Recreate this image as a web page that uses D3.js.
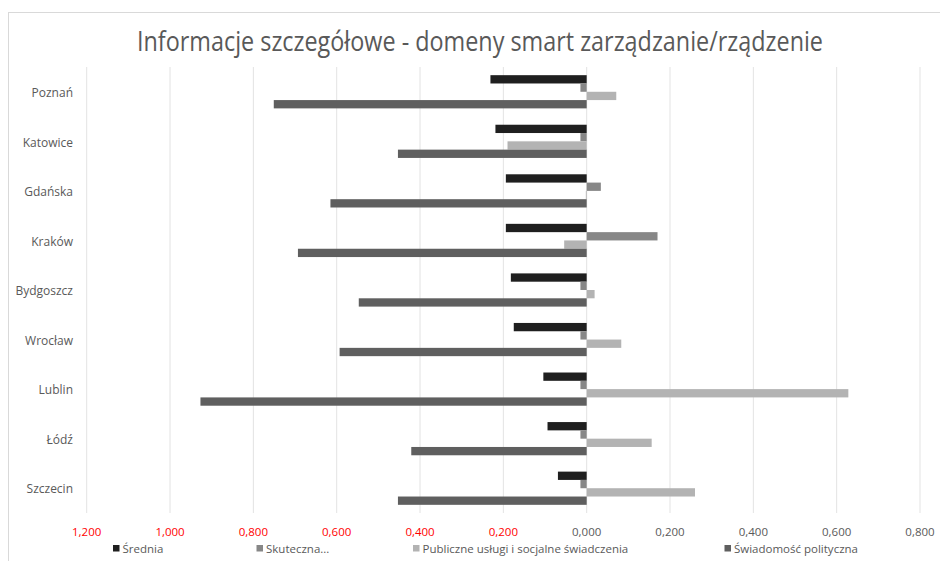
<!DOCTYPE html>
<html>
<head>
<meta charset="utf-8">
<script src="https://cdn.jsdelivr.net/npm/d3@7"></script>
<style>
	body { margin: 0; background: #fff; }
	svg { display: block; font-family: 'Open Sans', sans-serif; }
</style>
</head>
<body>
<svg id="chart" width="940" height="561"></svg>
<script>
const cities = ['Poznań', 'Katowice', 'Gdańska', 'Kraków', 'Bydgoszcz', 'Wrocław', 'Lublin', 'Łódź', 'Szczecin'];
const seriesNames = ['Średnia', 'Skuteczna...', 'Publiczne usługi i socjalne świadczenia', 'Świadomość polityczna'];
const srednia = [-0.231, -0.219, -0.194, -0.194, -0.182, -0.175, -0.104, -0.094, -0.069];
const skuteczna = [-0.015, -0.015, 0.034, 0.170, -0.015, -0.015, -0.015, -0.015, -0.015];
const publiczne = [0.071, -0.190, -0.002, -0.054, 0.019, 0.083, 0.628, 0.156, 0.260];
const swiadomosc = [-0.751, -0.453, -0.615, -0.693, -0.547, -0.593, -0.927, -0.421, -0.453];
const ticks = [-1.2, -1, -0.8, -0.6, -0.4, -0.2, 0, 0.2, 0.4, 0.6, 0.8];
const colors = ['#1f1f1f', '#878787', '#b3b3b3', '#5f5f5f'];

const series = [srednia, skuteczna, publiczne, swiadomosc];
const svg = d3.select('#chart');
const textColor = '#595959';

// chart frame (cut by the window on the right and bottom)
svg.append('rect')
	.attr('x', 8.5)
	.attr('y', 12.5)
	.attr('width', 1000)
	.attr('height', 600)
	.style('fill', '#fff')
	.style('stroke', '#d9d9d9');

const plot = { left: 86.7, right: 920, top: 67, bottom: 513 };

const x = d3.scaleLinear([-1.2, 0.8], [plot.left, plot.right]);
const y = d3.scaleBand(cities, [plot.top, plot.bottom])
	.paddingInner(0.33)
	.paddingOuter(0.165);
const ySub = d3.scaleBand(d3.range(series.length), [0, y.bandwidth()]);

const fmt = d3.formatLocale({ decimal: ',', thousands: ' ', grouping: [3], currency: ['', ''] }).format('.3f');

// gridlines
svg.append('g')
	.attr('class', 'grid')
	.selectAll('line')
	.data(ticks)
	.join('line')
	.attr('x1', d => x(d))
	.attr('x2', d => x(d))
	.attr('y1', plot.top)
	.attr('y2', plot.bottom)
	.style('stroke', '#e3e3e3')
	.style('stroke-width', 1);

// bars
const groups = svg.append('g')
	.attr('class', 'bars')
	.selectAll('g')
	.data(cities)
	.join('g')
	.attr('transform', d => `translate(0,${y(d)})`);

groups.selectAll('rect')
	.data((d, i) => series.map((s, j) => ({ j, v: s[i] })))
	.join('rect')
	.attr('x', d => x(Math.min(0, d.v)))
	.attr('width', d => Math.abs(x(d.v) - x(0)))
	.attr('y', d => ySub(d.j))
	.attr('height', ySub.bandwidth())
	.style('fill', d => colors[d.j]);

// category labels
svg.append('g')
	.attr('class', 'y-labels')
	.selectAll('text')
	.data(cities)
	.join('text')
	.attr('x', 73)
	.attr('y', d => y(d) + y.bandwidth() / 2 + 1)
	.attr('dy', '0.35em')
	.attr('text-anchor', 'end')
	.style('font-size', '12px')
	.style('fill', textColor)
	.text(d => d);

// tick labels
svg.append('g')
	.attr('class', 'x-labels')
	.selectAll('text')
	.data(ticks)
	.join('text')
	.attr('x', d => x(d))
	.attr('y', 532)
	.attr('dy', '0.35em')
	.attr('text-anchor', 'middle')
	.style('font-size', '11.5px')
	.style('fill', d => d < 0 ? '#ff0000' : textColor)
	.text(d => fmt(Math.abs(d)));

// title
svg.append('text')
	.attr('x', 480)
	.attr('y', 51)
	.attr('text-anchor', 'middle')
	.attr('textLength', 686)
	.attr('lengthAdjust', 'spacingAndGlyphs')
	.style('font-size', '27px')
	.style('fill', textColor)
	.text('Informacje szczegółowe - domeny smart zarządzanie/rządzenie');

// legend
const legendX = [113, 256.5, 413, 724.5];
const legend = svg.append('g')
	.attr('class', 'legend')
	.selectAll('g')
	.data(seriesNames)
	.join('g')
	.attr('transform', (d, i) => `translate(${legendX[i]},548.5)`);

legend.append('rect')
	.attr('x', 0)
	.attr('y', -3.5)
	.attr('width', 6.5)
	.attr('height', 6.5)
	.style('fill', (d, i) => colors[i]);

legend.append('text')
	.attr('x', 9.5)
	.attr('y', 0)
	.attr('dy', '0.35em')
	.style('font-size', '11.5px')
	.style('fill', textColor)
	.text(d => d);
</script>
</body>
</html>
